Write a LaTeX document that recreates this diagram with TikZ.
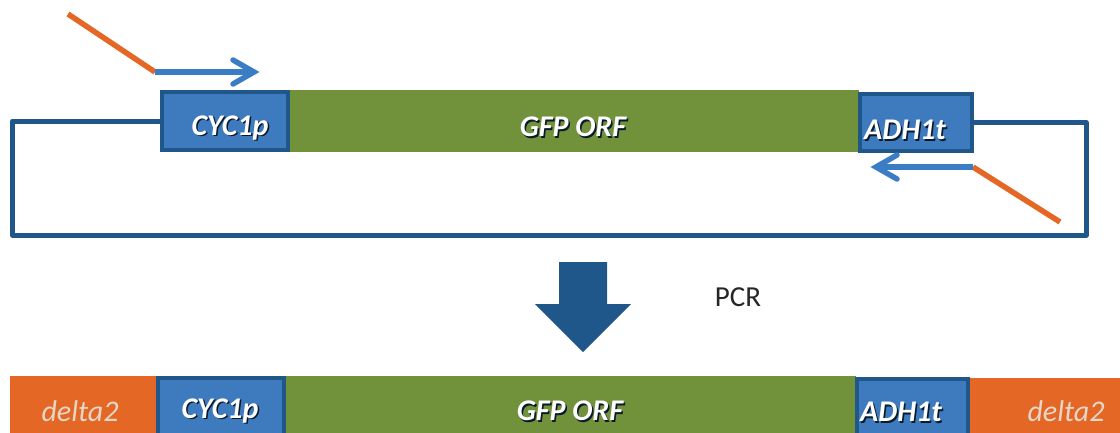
\documentclass[tikz,border=0pt]{standalone}
\usepackage{fontspec}
\setmainfont{Carlito}
\usetikzlibrary{calc}
\definecolor{dblue}{HTML}{1F578B}
\definecolor{mblue}{HTML}{3E7BBE}
\definecolor{pblue}{HTML}{3B7DC4}
\definecolor{ggreen}{HTML}{71913B}
\definecolor{orng}{HTML}{E46726}
\definecolor{beige}{HTML}{E6D6C6}
\tikzset{
  x=1pt, y=-1pt,
  seg/.style={anchor=north west, inner sep=0pt, outer sep=0pt},
  bluebox/.style={seg, fill=mblue, draw=dblue, line width=4.5pt},
  greenbox/.style={seg, fill=ggreen},
  orangebox/.style={seg, fill=orng},
  lbl/.style={text=white, font=\fontsize{30}{34}\selectfont\bfseries\itshape, inner sep=0pt},
  shd/.style={text=black!70!dblue, font=\fontsize{30}{34}\selectfont\bfseries\itshape, inner sep=0pt},
  dlbl/.style={text=beige, font=\fontsize{30}{34}\selectfont\itshape, inner sep=0pt},
  loopline/.style={draw=dblue, line width=5pt, line join=round},
  primer/.style={draw=pblue, line width=5.5pt},
  chevron/.style={draw=pblue, line width=5.5pt, line cap=round, line join=miter},
  tail/.style={draw=orng, line width=5.5pt},
}
\begin{document}
\begin{tikzpicture}
\useasboundingbox (0,0) rectangle (1120,432);
\clip (0,0) rectangle (1120,432);
% ---- top construct ----
\node[greenbox, minimum width=572pt, minimum height=62pt] (gfp) at (287,90) {};
\node[bluebox, minimum width=126pt, minimum height=58pt] (cyc) at (162,92) {};
\node[bluebox, minimum width=112pt, minimum height=57pt] (adh) at (860,94) {};
\draw[loopline] (cyc.west) -- (12.5,121) |- (1086,235) |- (adh.east);
% labels with shadows
\node[shd] at (231.5,129.5) {CYC1p};
\node[lbl] (cyct) at (230,128) {CYC1p};
\node[shd] at (574.5,128.5) {GFP ORF};
\node[lbl] (gfpt) at (573,127) {GFP ORF};
\node[shd] at (906.5,131.5) {ADH1t};
\node[lbl] (adht) at (905,130) {ADH1t};
% forward primer
\coordinate (f1) at (68,14);
\coordinate (f2) at (155,72);
\coordinate (f3) at (254,72);
\draw[tail] (f1) -- (f2);
\draw[primer] (f2) -- (f3);
\draw[chevron] ($(f3)+(-21,-12)$) -- (f3) -- ($(f3)+(-21,12)$);
% reverse primer
\coordinate (r1) at (1060,222);
\coordinate (r2) at (973,167);
\coordinate (r3) at (876,167);
\draw[tail] (r1) -- (r2);
\draw[primer] (r2) -- (r3);
\draw[chevron] ($(r3)+(21,-12)$) -- (r3) -- ($(r3)+(21,12)$);
% ---- PCR arrow ----
\fill[dblue] (559,262) -- (607,262) -- (607,304) -- (631,304) -- (583,352) -- (535,304) -- (559,304) -- cycle;
\node[font=\fontsize{29}{32}\selectfont, text=black!85, inner sep=0pt] (pcr) at (738,297) {PCR};
% ---- bottom product ----
\node[orangebox, minimum width=146pt, minimum height=70pt] (d1) at (10,376) {};
\node[orangebox, minimum width=152pt, minimum height=70pt] (d2) at (968,378) {};
\node[greenbox, minimum width=572pt, minimum height=70pt] (gfp2) at (284,376) {};
\node[bluebox, minimum width=126pt, minimum height=70pt] (cyc2) at (158,378) {};
\node[bluebox, minimum width=111pt, minimum height=70pt] (adh2) at (857,379) {};
\node[dlbl] (d1t) at (80,411) {delta2};
\node[dlbl] (d2t) at (1066,411) {delta2};
\node[shd] at (221.5,412.5) {CYC1p};
\node[lbl] (cyc2t) at (220,411) {CYC1p};
\node[shd] at (571.5,412.5) {GFP ORF};
\node[lbl] (gfp2t) at (570,411) {GFP ORF};
\node[shd] at (902.5,413.5) {ADH1t};
\node[lbl] (adh2t) at (901,412) {ADH1t};
\end{tikzpicture}
\end{document}
